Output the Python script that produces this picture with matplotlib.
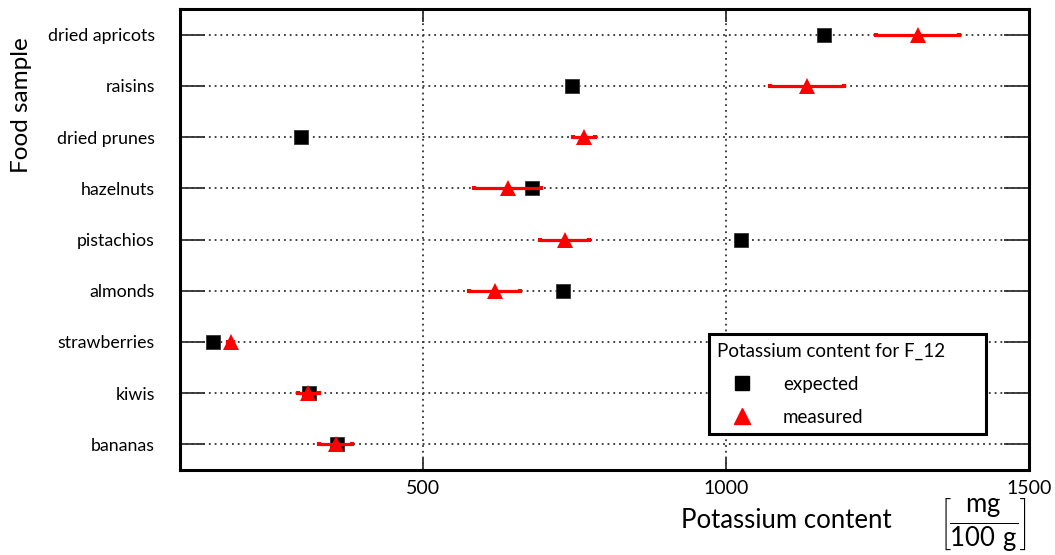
import matplotlib
matplotlib.use("Agg")
import matplotlib.pyplot as plt
from matplotlib.lines import Line2D

plt.rcParams['font.family'] = ['Lato', 'DejaVu Sans']
plt.rcParams['mathtext.fontset'] = 'custom'
plt.rcParams['mathtext.rm'] = 'Lato'

foods = ["bananas", "kiwis", "strawberries", "almonds", "pistachios",
         "hazelnuts", "dried prunes", "raisins", "dried apricots"]
expected = [357, 311, 152, 731, 1025, 679, 298, 745, 1162]
measured = [355, 310, 182, 618, 733, 639, 765, 1134, 1316]
measured_err = [27, 17, 4, 42, 40, 55, 18, 61, 68]
x_ticks = [500, 1000, 1500]

fig = plt.figure(figsize=(10.55, 5.55), dpi=100)
ax = fig.add_axes([180/1055, 85/555, 849/1055, 461/555])

ypos = list(range(len(foods)))

ax.plot(expected, ypos, linestyle='none', marker='s', markersize=9.8,
        color='black', markeredgecolor='#333333', markeredgewidth=0.6, zorder=3)
ax.errorbar(measured, ypos, xerr=measured_err, fmt='none', ecolor='red',
            elinewidth=2.3, capsize=1.5, capthick=3, zorder=4)
ax.plot(measured, ypos, linestyle='none', marker='^', markersize=12,
        color='red', markeredgewidth=0, zorder=5)

ax.set_xlim(98, 1500)
ax.set_ylim(-0.5, len(foods) - 0.5)
ax.set_yticks(ypos)
ax.set_yticklabels(foods, fontsize=12.8)
ax.set_xticks(x_ticks)
ax.set_xticklabels([str(t) for t in x_ticks], fontsize=14)

ax.grid(True, linestyle=(0, (1, 2.2)), color='#333333', linewidth=1.3)
ax.set_axisbelow(True)

for s in ax.spines.values():
    s.set_linewidth(2.2)
    s.set_color('black')

ax.tick_params(axis='y', direction='in', length=18, width=1.3, color='#333333',
               left=True, right=True, pad=18)
ax.tick_params(axis='x', direction='in', length=9, width=1.3, color='#333333',
               top=True, bottom=True, pad=7)

fig.text(22/1055, 1 - 105/555, "Food sample", rotation=90, fontsize=17.5,
         ha='center', va='center')
fig.text(786/1055, 1 - 520/555, "Potassium content", fontsize=18.5,
         ha='center', va='center')
fig.text(983/1055, 1 - 525/555,
         r'$\left[\dfrac{\mathrm{mg}}{\mathrm{100\ g}}\right]$', fontsize=18.5,
         ha='center', va='center')

handles = [
    Line2D([], [], linestyle='none', marker='s', markersize=9.8, color='black'),
    Line2D([], [], linestyle='none', marker='^', markersize=12, color='red'),
]
x0 = (709 - 180) / 849
y1 = (470 - 334) / 461
w = (986 - 709) / 849
h = (429 - 334) / 461
leg = ax.legend(handles, ["expected", "measured"], title="Potassium content for F_12",
                loc='upper left', bbox_to_anchor=(x0, y1 - h, w, h), mode='expand',
                fontsize=13.5, title_fontsize=13.5, frameon=True, fancybox=False,
                framealpha=1, edgecolor='black', borderpad=0.45, handletextpad=0.9,
                labelspacing=0.85, alignment='left', handlelength=2.6,
                borderaxespad=0)
leg.get_frame().set_linewidth(2.2)

fig.savefig("out.png", dpi=100)
